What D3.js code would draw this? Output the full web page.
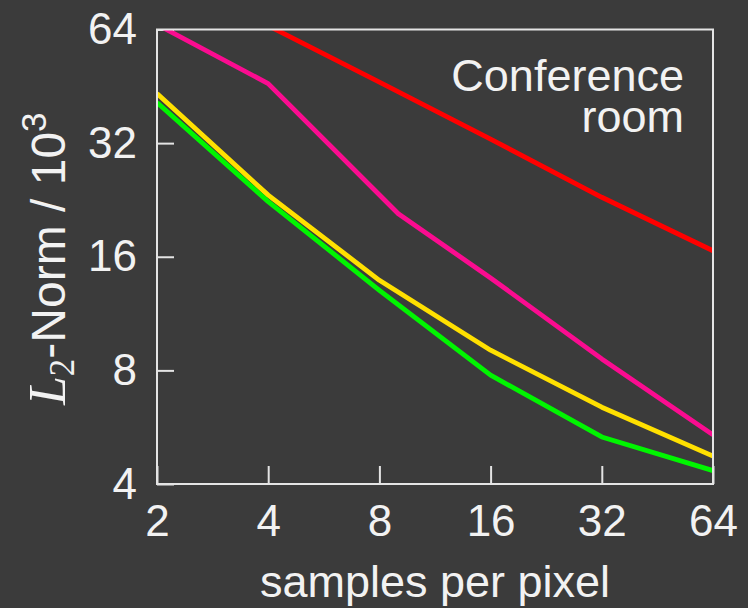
<!DOCTYPE html>
<html>
<head>
<meta charset="utf-8">
<script src="https://cdn.jsdelivr.net/npm/d3@7"></script>
<style>
  html, body { margin: 0; padding: 0; background: #3b3b3b; }
  svg { display: block; }
  text { font-family: "Liberation Sans", Arial, Helvetica, sans-serif; fill: #f2f2f2; }
</style>
</head>
<body>
<svg id="chart" width="748" height="608"></svg>
<script>
// ---- data ----
const samples = [2, 4, 8, 16, 32, 64];
const magentaSamples = [2, 4, 9, 16, 32, 64];
const redSamples = [4, 8, 16, 32, 64];
const redValues = [65.5, 46.4, 32.8, 23.0, 16.6];
const magentaValues = [66, 46.0, 20.8, 14.06, 8.58, 5.4];
const yellowValues = [43.3, 23.3, 13.86, 9.05, 6.39, 4.74];
const greenValues = [41.0, 22.4, 13.04, 7.77, 5.33, 4.34];
const xTicks = [2, 4, 8, 16, 32, 64];
const yTicks = [4, 8, 16, 32, 64];
const sceneLabel = ["Conference", "room"];
const xTitle = "samples per pixel";

// ---- layout ----
const W = 748, H = 608;
const m = { left: 157, right: 35, top: 29.5, bottom: 124 };
const svg = d3.select("#chart");
const pw = W - m.left - m.right, ph = H - m.top - m.bottom;

const x = d3.scaleLog().base(2).domain([2, 64]).range([m.left, m.left + pw]);
const y = d3.scaleLog().base(2).domain([4, 64]).range([m.top + ph, m.top]);

svg.append("defs").append("clipPath").attr("id", "clip")
  .append("rect").attr("x", m.left).attr("y", m.top).attr("width", pw).attr("height", ph);

// axes
const axisColor = "#e4e4e4";
const gx = svg.append("g").attr("transform", `translate(0,${m.top + ph})`)
  .call(d3.axisBottom(x).tickValues(xTicks).tickFormat(d3.format("d")).tickSize(-18).tickPadding(21));
const gy = svg.append("g").attr("transform", `translate(${m.left},0)`)
  .call(d3.axisLeft(y).tickValues(yTicks).tickFormat(d3.format("d")).tickSize(-17).tickPadding(20));
[gx, gy].forEach(g => {
  g.select(".domain").remove();
  g.selectAll(".tick line").attr("stroke", axisColor).attr("stroke-width", 2);
  g.selectAll(".tick text").attr("font-size", 44).attr("fill", "#f2f2f2")
    .attr("font-family", "'Liberation Sans', Arial, sans-serif");
});

// series lines
const line = d3.line().x(d => x(d[0])).y(d => y(d[1]));
const series = [
  { xs: redSamples, ys: redValues, color: "#ff0000" },
  { xs: magentaSamples, ys: magentaValues, color: "#fa0c90" },
  { xs: samples, ys: yellowValues, color: "#ffe000" },
  { xs: samples, ys: greenValues, color: "#00f500" }
];
const gl = svg.append("g").attr("clip-path", "url(#clip)");
series.forEach(s => {
  gl.append("path")
    .datum(s.xs.map((v, i) => [v, s.ys[i]]))
    .attr("d", line)
    .attr("fill", "none")
    .attr("stroke", s.color)
    .attr("stroke-width", 4.8)
    .attr("stroke-linejoin", "round");
});

// frame
svg.append("rect").attr("x", m.left).attr("y", m.top).attr("width", pw).attr("height", ph)
  .attr("fill", "none").attr("stroke", axisColor).attr("stroke-width", 2);

// scene label
sceneLabel.forEach((t, i) => {
  svg.append("text").attr("text-anchor", "end").attr("font-size", 45)
    .attr("x", x(64) - 29).attr("y", 91 + i * 41).text(t);
});

// x title
svg.append("text").attr("x", m.left + pw / 2).attr("y", 597)
  .attr("text-anchor", "middle").attr("font-size", 45).text(xTitle);

// y title
const yt = svg.append("text")
  .attr("transform", `translate(65,${m.top + ph / 2 + 2}) rotate(-90)`)
  .attr("text-anchor", "middle").attr("font-size", 48);
yt.append("tspan").attr("font-family", "'Liberation Serif', 'DejaVu Serif', serif")
  .attr("font-style", "italic").attr("font-size", 52).text("L");
yt.append("tspan").attr("font-family", "'Liberation Serif', 'DejaVu Serif', serif")
  .attr("font-size", 35).attr("dy", 9).text("2");
yt.append("tspan").attr("dy", -9).text("-Norm / 10");
yt.append("tspan").attr("font-size", 35).attr("dy", -19).text("3");
</script>
</body>
</html>
